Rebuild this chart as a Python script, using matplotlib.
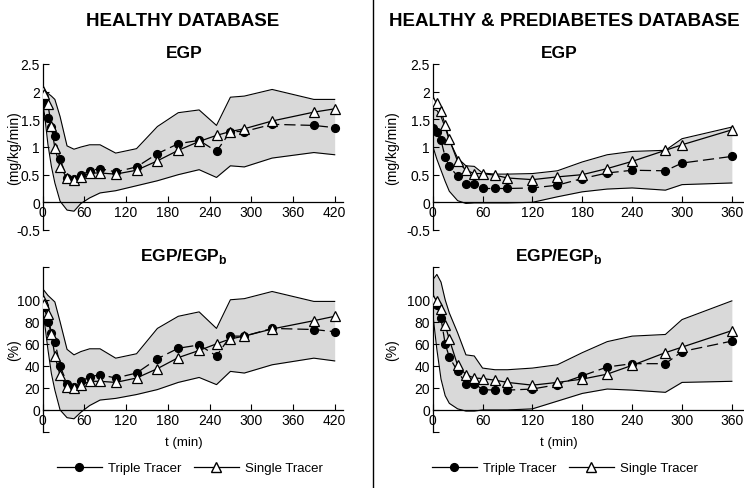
import matplotlib
matplotlib.use("Agg")
import matplotlib.pyplot as plt
from matplotlib.lines import Line2D

plt.rcParams['font.family'] = ['Liberation Sans', 'DejaVu Sans']
plt.rcParams['mathtext.fontset'] = 'custom'
plt.rcParams['mathtext.bf'] = 'Liberation Sans:bold'

# ---------------- data ----------------
T_H = [0, 2.5, 7.5, 12.5, 17.5, 25, 35, 45, 55, 67.5, 82.5, 105, 135, 165, 195, 225, 250, 270, 290, 330, 390, 420]
triple_egp_h = [1.88, 1.80, 1.52, 1.36, 1.19, 0.78, 0.44, 0.42, 0.49, 0.57, 0.61, 0.55, 0.64, 0.88, 1.06, 1.12, 0.92, 1.28, 1.28, 1.41, 1.39, 1.35]
single_egp_h = [2.02, 1.95, 1.77, 1.38, 0.98, 0.64, 0.44, 0.41, 0.45, 0.53, 0.53, 0.51, 0.58, 0.75, 0.94, 1.10, 1.21, 1.28, 1.33, 1.47, 1.63, 1.69]
upper_egp_h = [2.06, 2.02, 1.97, 1.92, 1.86, 1.55, 1.02, 0.96, 1.00, 1.04, 1.04, 0.89, 0.97, 1.37, 1.62, 1.67, 1.39, 1.90, 1.92, 2.04, 1.86, 1.86]
lower_egp_h = [1.78, 1.60, 1.05, 0.65, 0.35, 0.02, -0.14, -0.16, -0.02, 0.08, 0.17, 0.21, 0.30, 0.39, 0.50, 0.59, 0.45, 0.66, 0.64, 0.80, 0.90, 0.86]

triple_pct_h = [97, 93, 80, 70, 62, 40, 24, 21, 26, 30, 32, 29, 33.5, 46.5, 56, 59, 49, 67, 67, 74, 73, 71]
single_pct_h = [100, 96, 87, 69, 49, 31.5, 21, 20, 22.5, 26, 26, 25, 29, 37.5, 47.5, 54, 60, 64.5, 67, 73.5, 81, 85]
upper_pct_h = [110, 108, 104, 101, 98, 80, 55, 50, 53, 55.5, 55.5, 47, 51, 74, 85, 89, 74, 100, 101, 107.5, 98.5, 98.5]
lower_pct_h = [90, 80, 55, 33, 18, 0, -7, -8, -2, 4, 9, 10.5, 14, 18.5, 25, 29.5, 23, 35, 33.5, 41, 47, 44.5]

T_HP = [0, 5, 10, 15, 20, 30, 40, 50, 60, 75, 90, 120, 150, 180, 210, 240, 280, 300, 360]
triple_egp_hp = [1.34, 1.27, 1.12, 0.82, 0.65, 0.47, 0.33, 0.34, 0.25, 0.25, 0.25, 0.26, 0.31, 0.43, 0.53, 0.58, 0.57, 0.71, 0.83]
single_egp_hp = [1.81, 1.79, 1.65, 1.40, 1.14, 0.74, 0.58, 0.52, 0.52, 0.49, 0.44, 0.41, 0.46, 0.50, 0.61, 0.74, 0.94, 1.04, 1.31]
upper_egp_hp = [1.68, 1.66, 1.55, 1.35, 1.12, 0.80, 0.66, 0.65, 0.53, 0.51, 0.51, 0.52, 0.57, 0.73, 0.86, 0.92, 0.94, 1.15, 1.36]
lower_egp_hp = [1.02, 0.78, 0.58, 0.38, 0.20, 0.03, -0.02, -0.01, -0.01, -0.01, -0.01, 0.0, 0.10, 0.19, 0.24, 0.26, 0.22, 0.32, 0.35]

triple_pct_hp = [98, 95, 83, 60, 48, 35, 24, 24, 18.5, 18, 18, 19, 23, 31, 39, 42, 42, 53, 62.5]
single_pct_hp = [100, 99, 92, 77, 64, 40.5, 32, 29, 28.5, 27, 25, 22.5, 25, 28, 32.5, 40.5, 52, 57, 72]
upper_pct_hp = [118, 123, 116, 100, 88, 70, 50, 49, 38, 36.5, 36.5, 38, 41, 52, 62, 67, 68.5, 82, 99]
lower_pct_hp = [88, 55, 28, 13, 6, 1, -1, -1, 0, 0, 0, 1, 8, 15, 19, 18, 16, 25, 26]

xticks_h = [0, 60, 120, 180, 240, 300, 360, 420]
xticks_hp = [0, 60, 120, 180, 240, 300, 360]
yticks_egp = [-0.5, 0, 0.5, 1, 1.5, 2, 2.5]
yticklabels_egp = ['-0.5', '0', '0.5', '1', '1.5', '2', '2.5']
yticks_pct = [-20, 0, 20, 40, 60, 80, 100, 130]
yticklabels_pct = ['', '0', '20', '40', '60', '80', '100', '']

titles = ['HEALTHY DATABASE', 'HEALTHY & PREDIABETES DATABASE']
series_names = ['Triple Tracer', 'Single Tracer']

# ---------------- figure ----------------
W, H = 744, 489
fig = plt.figure(figsize=(W / 100, H / 100), dpi=100)

def fx(px):
    return px / W

def fy(py):
    return 1 - py / H

BAND = '#d9d9d9'

def panel(rect, t, tri, sgl, up, lo, xlim, xticks, ylim, yticks, yticklabels):
    ax = fig.add_axes(rect)
    ax.fill_between(t, lo, up, color=BAND, lw=0, zorder=1)
    ax.plot(t, up, color='black', lw=0.8, zorder=2)
    ax.plot(t, lo, color='black', lw=0.8, zorder=2)
    ax.plot(t, tri, color='black', lw=0.9, ls=(0, (9, 4)), marker='o', ms=5.6,
            mfc='black', mec='black', zorder=3)
    ax.plot(t, sgl, color='black', lw=0.9, ls='-', marker='^', ms=7.2,
            mfc='white', mec='black', mew=0.9, zorder=4)
    ax.set_xlim(*xlim)
    ax.set_ylim(*ylim)
    ax.spines['top'].set_visible(False)
    ax.spines['right'].set_visible(False)
    ax.spines['bottom'].set_position(('data', 0))
    for s in ('left', 'bottom'):
        ax.spines[s].set_linewidth(0.9)
    ax.set_xticks(xticks)
    ax.set_xticklabels([str(v) for v in xticks])
    ax.set_yticks(yticks)
    ax.set_yticklabels(yticklabels)
    ax.tick_params(direction='in', length=4, width=0.8, labelsize=10, pad=2)
    ax.patch.set_alpha(0)
    return ax

# geometry (pixels)
lx0, rx0 = 42.7, 432.7
sx_h = 0.6952   # px per minute
sx_hp = 0.831
top_y0, top_y1 = 65, 231
bot_y0, bot_y1 = 267.7, 433

def rect(x0, xmax, sx, y0, y1):
    return [fx(x0), fy(y1), (xmax * sx) / W, (y1 - y0) / H]

panel(rect(lx0, 432, sx_h, top_y0, top_y1), T_H, triple_egp_h, single_egp_h, upper_egp_h, lower_egp_h,
      (0, 432), xticks_h, (-0.5, 2.5), yticks_egp, yticklabels_egp)
panel(rect(rx0, 374, sx_hp, top_y0, top_y1), T_HP, triple_egp_hp, single_egp_hp, upper_egp_hp, lower_egp_hp,
      (0, 374), xticks_hp, (-0.5, 2.5), yticks_egp, yticklabels_egp)
panel(rect(lx0, 432, sx_h, bot_y0, bot_y1), T_H, triple_pct_h, single_pct_h, upper_pct_h, lower_pct_h,
      (0, 432), xticks_h, (-20, 130), yticks_pct, yticklabels_pct)
panel(rect(rx0, 374, sx_hp, bot_y0, bot_y1), T_HP, triple_pct_hp, single_pct_hp, upper_pct_hp, lower_pct_hp,
      (0, 374), xticks_hp, (-20, 130), yticks_pct, yticklabels_pct)

# divider
fig.add_artist(Line2D([fx(373), fx(373)], [0, 1], color='black', lw=1.0))

# titles
for cx, title in zip([183, 564], titles):
    fig.text(fx(cx), fy(21), title, ha='center', va='center', fontsize=13.5,
             fontweight='bold')
for cx in [184, 559]:
    fig.text(fx(cx), fy(53), 'EGP', ha='center', va='center', fontsize=12.5,
             fontweight='bold')
    fig.text(fx(cx), fy(256), r'EGP/EGP$_{\mathbf{b}}$', ha='center', va='center',
             fontsize=12.5, fontweight='bold')
    fig.text(fx(cx), fy(443), 't (min)', ha='center', va='center', fontsize=9.5)

for xl in [14, 392]:
    fig.text(fx(xl), fy(148), '(mg/kg/min)', rotation=90, ha='center', va='center', fontsize=10)
    fig.text(fx(xl), fy(350), '(%)', rotation=90, ha='center', va='center', fontsize=10)

handles = [
    Line2D([], [], color='black', lw=0.9, marker='o', ms=5.6, mfc='black', mec='black'),
    Line2D([], [], color='black', lw=0.9, marker='^', ms=7.2, mfc='white', mec='black'),
]
for cx in [190, 565]:
    fig.legend(handles, series_names, loc='center', bbox_to_anchor=(fx(cx), fy(469)),
               ncol=2, frameon=False, fontsize=9.5, handlelength=3.4, columnspacing=0.9,
               handletextpad=0.5)

fig.savefig('out.png', dpi=100)
